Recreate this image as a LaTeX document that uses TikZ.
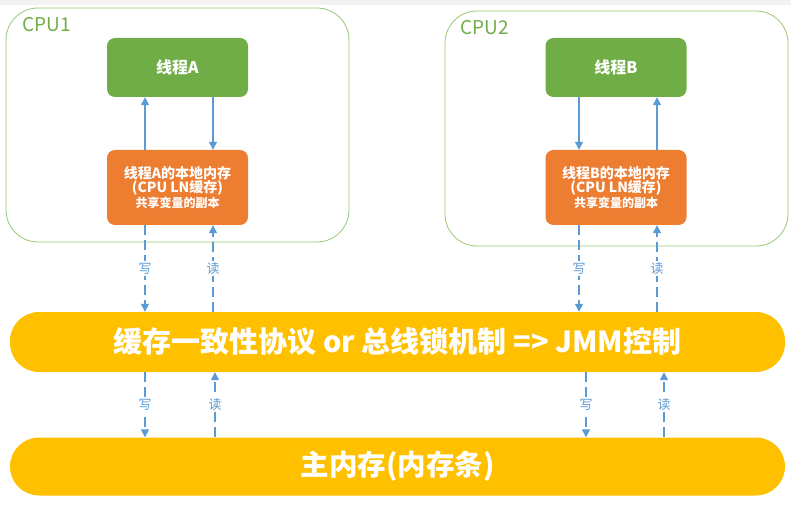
\documentclass[tikz,border=0pt]{standalone}
\usepackage{fontspec}
\setmainfont{Noto Sans CJK SC}
\usetikzlibrary{arrows.meta, positioning, calc}
\definecolor{cpugreen}{RGB}{150, 200, 115}
\definecolor{cputext}{RGB}{112, 173, 71}
\definecolor{threadgreen}{RGB}{112, 173, 71}
\definecolor{memorange}{RGB}{237, 125, 49}
\definecolor{busyellow}{RGB}{255, 192, 0}
\definecolor{linkblue}{RGB}{91, 155, 213}

\begin{document}
\begin{tikzpicture}[x=1pt, y=-1pt,
  cpubox/.style={draw=cpugreen, line width=0.8pt, rounded corners=32pt, minimum width=343pt, minimum height=234pt},
  threadbox/.style={fill=threadgreen, rounded corners=8pt, minimum width=141pt, minimum height=59pt, text=white, font=\bfseries\fontsize{16}{18}\selectfont},
  localbox/.style={fill=memorange, rounded corners=8pt, minimum width=141pt, minimum height=75pt, text=white, align=center, inner sep=2pt},
  barbox/.style={fill=busyellow, rounded corners=29pt, minimum width=775pt, text=white},
  solidarrow/.style={draw=linkblue, line width=1.3pt, -{Triangle[width=8pt,length=8pt]}},
  dasharrow/.style={solidarrow, dash pattern=on 10pt off 5pt},
  rwlabel/.style={fill=white, text=linkblue, inner sep=1.5pt, font=\fontsize{13}{13}\selectfont}
]
  \useasboundingbox (0,0) rectangle (791,510);
  \fill[black!5] (0,0) rectangle (791,5);

  % CPU frames
  \node[cpubox] (cpuA) at (177.5, 125) {};
  \node[cpubox, minimum height=235pt] (cpuB) at (616.5, 128.5) {};
  \node[anchor=west, text=cputext, font=\fontsize{19}{20}\selectfont] (cpuAlbl) at (19, 25) {CPU1};
  \node[anchor=west, text=cputext, font=\fontsize{19}{20}\selectfont] (cpuBlbl) at (457, 28) {CPU2};

  % threads
  \node[threadbox] (thA) at (177.5, 67.5) {线程A};
  \node[threadbox] (thB) at (616, 67.5) {线程B};

  % local memory
  \node[localbox] (locA) at (177.5, 187.5) {
    {\bfseries\fontsize{14}{19}\selectfont 线程A的本地内存}\\
    {\bfseries\fontsize{14}{18}\selectfont (CPU LN缓存)}\\
    {\bfseries\fontsize{12}{15}\selectfont 共享变量的副本}
  };
  \node[localbox] (locB) at (616, 187.5) {
    {\bfseries\fontsize{14}{19}\selectfont 线程B的本地内存}\\
    {\bfseries\fontsize{14}{18}\selectfont (CPU LN缓存)}\\
    {\bfseries\fontsize{12}{15}\selectfont 共享变量的副本}
  };

  % bus and main memory
  \node[barbox, minimum height=60pt, font=\bfseries\fontsize{29}{30}\selectfont] (bus) at (397.5, 342) {缓存一致性协议 or 总线锁机制 => JMM控制};
  \node[barbox, minimum height=58pt, font=\bfseries\fontsize{28.5}{30}\selectfont] (mainmem) at (397.5, 466.5) {主内存(内存条)};

  % columns of the connectors
  \coordinate (colA1) at (145, 0);
  \coordinate (colA2) at (213, 0);
  \coordinate (colA3) at (215, 0);
  \coordinate (colB1) at (579, 0);
  \coordinate (colB2) at (657, 0);
  \coordinate (colB3) at (586, 0);
  \coordinate (colB4) at (664, 0);

  % inside the CPUs
  \draw[solidarrow] (locA.north -| colA1) -- (thA.south -| colA1);
  \draw[solidarrow] (thA.south -| colA2) -- (locA.north -| colA2);
  \draw[solidarrow] (thB.south -| colB1) -- (locB.north -| colB1);
  \draw[solidarrow] (locB.north -| colB2) -- (thB.south -| colB2);

  % local memory <-> bus
  \draw[dasharrow] (locA.south -| colA1) -- node[rwlabel] {写} (bus.north -| colA1);
  \draw[dasharrow] (bus.north -| colA2) -- node[rwlabel] {读} (locA.south -| colA2);
  \draw[dasharrow] (locB.south -| colB1) -- node[rwlabel] {写} (bus.north -| colB1);
  \draw[dasharrow] (bus.north -| colB2) -- node[rwlabel] {读} (locB.south -| colB2);

  % bus <-> main memory
  \draw[dasharrow] (bus.south -| colA1) -- node[rwlabel] {写} (mainmem.north -| colA1);
  \draw[dasharrow] (mainmem.north -| colA3) -- node[rwlabel] {读} (bus.south -| colA3);
  \draw[dasharrow] (bus.south -| colB3) -- node[rwlabel] {写} (mainmem.north -| colB3);
  \draw[dasharrow] (mainmem.north -| colB4) -- node[rwlabel] {读} (bus.south -| colB4);
\end{tikzpicture}
\end{document}
